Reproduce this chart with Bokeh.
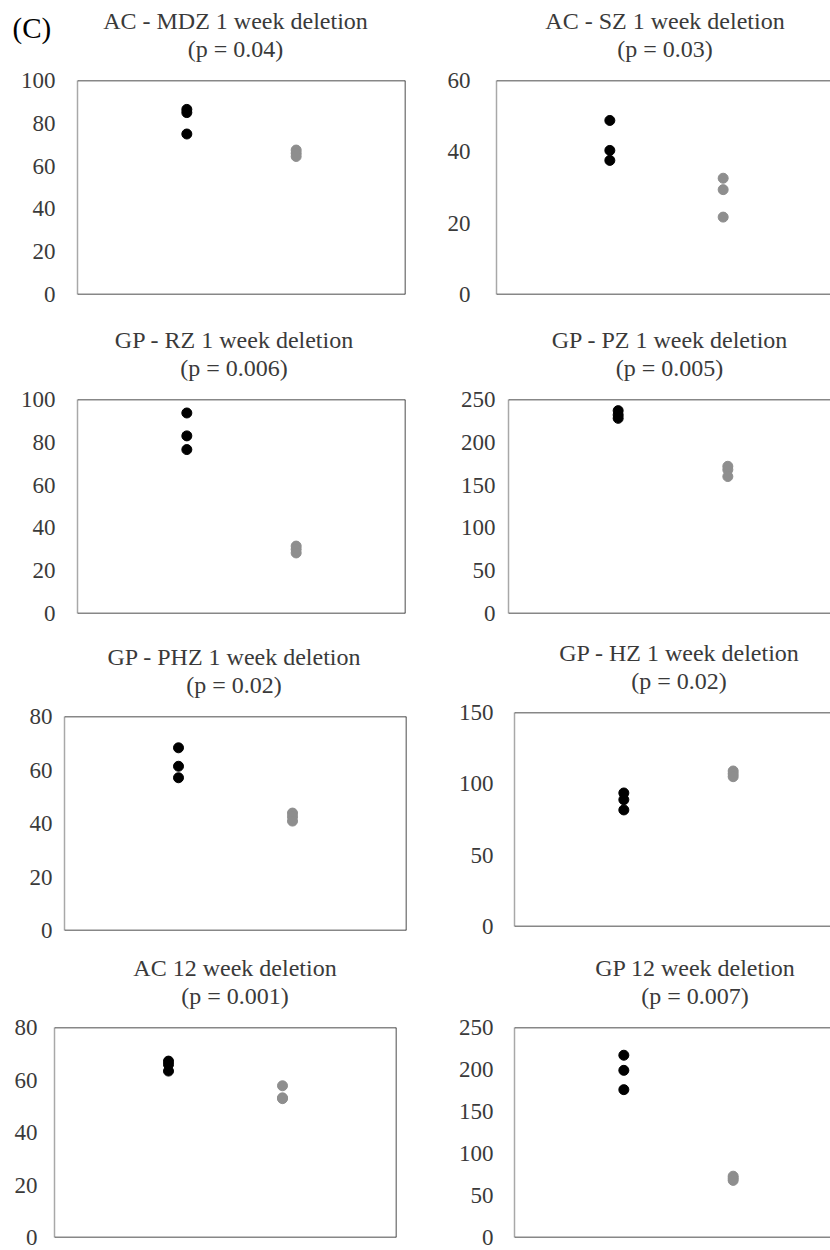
from bokeh.plotting import figure
from bokeh.layouts import column, row
from bokeh.models import Range1d, FixedTicker, Span, Div, ColumnDataSource
from bokeh.embed import file_html
from bokeh.resources import INLINE

# ---------------- data ----------------
titles = [
    "AC - MDZ 1 week deletion",
    "AC - SZ 1 week deletion",
    "GP - RZ 1 week deletion",
    "GP - PZ 1 week deletion",
    "GP - PHZ 1 week deletion",
    "GP - HZ 1 week deletion",
    "AC 12 week deletion",
    "GP 12 week deletion",
]
p_texts = [
    "(p = 0.04)",
    "(p = 0.03)",
    "(p = 0.006)",
    "(p = 0.005)",
    "(p = 0.02)",
    "(p = 0.02)",
    "(p = 0.001)",
    "(p = 0.007)",
]
y_max = [100, 60, 100, 250, 80, 150, 80, 250]
y_step = [20, 20, 20, 50, 20, 50, 20, 50]
group_x = [1, 2]
control_vals = [
    [86.5, 85.0, 75.0],
    [48.8, 40.4, 37.6],
    [93.7, 83.0, 76.6],
    [237.0, 232.0, 228.0],
    [68.3, 61.4, 57.1],
    [93.6, 88.9, 81.7],
    [67.2, 65.9, 63.4],
    [217.0, 199.0, 176.0],
]
deletion_vals = [
    [67.5, 66.0, 64.5],
    [32.6, 29.4, 21.7],
    [31.5, 30.0, 28.3],
    [172.0, 168.0, 160.0],
    [43.9, 42.5, 40.9],
    [109.0, 107.0, 105.0],
    [57.8, 53.2, 52.9],
    [73.0, 70.5, 68.0],
]
panel_letter = "(C)"

# ---------------- layout / style ----------------
FONT = '"Liberation Serif"'
CSS_FONT = "'Liberation Serif', serif"
TEXT_COLOR = "#3a3a3a"
BLACK_DOT = "#000000"
GRAY_DOT = "#8e8e8e"
COL_W = 415
row_h = [316, 318, 312, 304]
FIG_TOP = 14
# (border_left, border_right, frame_top, border_bottom, label_standoff, full_frame_width, title_center)
geom = [
    (77, 10, 80, 22, 22, 328, 235.5),
    (81, 0, 80, 22, 26, 340, 250),
    (77, 10, 83, 21, 22, 328, 234),
    (93, 0, 83, 21, 13, 329, 254.5),
    (64, 9, 82, 16, 12, 342, 234),
    (99, 0, 78, 20, 21, 328, 264),
    (54, 19, 81, 13, 17, 342, 235),
    (99, 0, 81, 13, 21, 328, 280),
]

cells = []
for i in range(8):
    bl, br, ft, bb, stand, full_w, cx = geom[i]
    h = row_h[i // 2]
    div_h = ft - FIG_TOP
    frame_w = COL_W - bl - br
    x_end = 3.0 * frame_w / full_w

    # title block (two centred lines)
    tw = 2 * min(cx, COL_W - cx)
    y1 = ft - 73
    html = (f'<div style="position:relative;width:{COL_W}px;height:{div_h}px;'
            f'font-family:{CSS_FONT};color:{TEXT_COLOR};">'
            f'<div style="position:absolute;left:{cx - tw / 2}px;top:{y1}px;width:{tw}px;'
            f'text-align:center;font-size:24px;line-height:28px;white-space:nowrap;">'
            f'{titles[i]}<br>{p_texts[i]}</div>')
    if i == 0:
        html += ('<div style="position:absolute;left:12.5px;top:13.7px;font-size:29px;'
                 f'line-height:29px;color:#000000;white-space:nowrap;">{panel_letter}</div>')
    html += '</div>'
    div = Div(text=html, width=COL_W, height=div_h, margin=0, styles={"overflow": "visible"})

    p = figure(width=COL_W, height=h - div_h, output_backend="svg", toolbar_location=None,
               x_range=Range1d(0, x_end), y_range=Range1d(0, y_max[i]),
               x_axis_location=None, min_border_left=bl, min_border_right=br,
               min_border_top=FIG_TOP, min_border_bottom=bb, tools="")
    p.outline_line_color = None
    p.grid.visible = False
    p.background_fill_color = "white"
    p.border_fill_color = "white"

    ax = p.yaxis[0]
    ax.ticker = FixedTicker(ticks=list(range(0, y_max[i] + 1, y_step[i])))
    ax.major_tick_line_color = None
    ax.minor_tick_line_color = None
    ax.major_tick_out = 0
    ax.major_tick_in = 0
    ax.axis_line_color = "#a8a8a8"
    ax.axis_line_width = 1.5
    ax.major_label_standoff = stand
    ax.major_label_text_font = FONT
    ax.major_label_text_font_size = "23px"
    ax.major_label_text_color = TEXT_COLOR

    p.add_layout(Span(location=y_max[i], dimension="width", line_color="#111111", line_width=1.5))
    p.add_layout(Span(location=0, dimension="width", line_color="#111111", line_width=1.5))
    if br > 0:
        p.add_layout(Span(location=x_end, dimension="height", line_color="#111111", line_width=1.5))

    src_c = ColumnDataSource(dict(x=[group_x[0]] * len(control_vals[i]), y=control_vals[i]))
    src_d = ColumnDataSource(dict(x=[group_x[1]] * len(deletion_vals[i]), y=deletion_vals[i]))
    p.scatter("x", "y", source=src_c, size=10, color=BLACK_DOT)
    p.scatter("x", "y", source=src_d, size=10, color=GRAY_DOT)
    cells.append(column(div, p, spacing=0))

layout = column(row(cells[0], cells[1]), row(cells[2], cells[3]),
                row(cells[4], cells[5]), row(cells[6], cells[7]))

open("out.html", "w").write(file_html(layout, INLINE))
